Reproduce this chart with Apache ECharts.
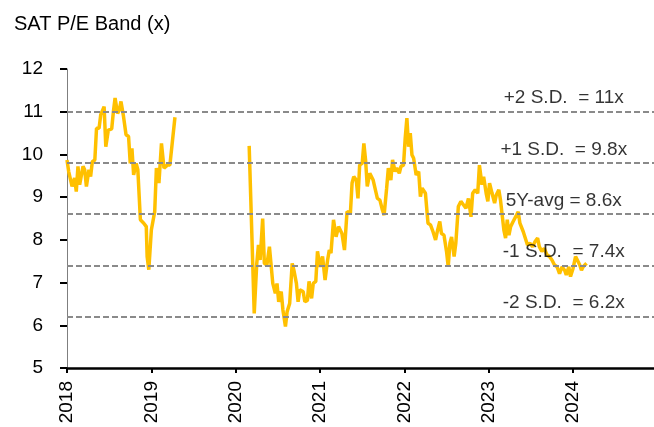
<!DOCTYPE html>
<html>
<head>
<meta charset="utf-8">
<script src="https://cdn.jsdelivr.net/npm/echarts@6/dist/echarts.min.js"></script>
<style>
  html, body {
    margin: 0;
    padding: 0;
    background: #FFFFFF;
  }
  #pe-band-chart {
    width: 654px;
    height: 427px;
  }
</style>
</head>
<body>
<div id="pe-band-chart"></div>
<script>
// x positions as decimal years
const dates = [
  2018.00, 2018.02, 2018.06, 2018.09, 2018.11, 2018.13, 2018.15, 2018.19, 2018.21, 2018.23,
  2018.26, 2018.28, 2018.30, 2018.33, 2018.35, 2018.38, 2018.40, 2018.44, 2018.46, 2018.49,
  2018.53, 2018.55, 2018.57, 2018.60, 2018.62, 2018.64, 2018.67, 2018.70, 2018.73, 2018.75,
  2018.77, 2018.79, 2018.82, 2018.84, 2018.87, 2018.91, 2018.94, 2018.95, 2018.97, 2019.00,
  2019.04, 2019.06, 2019.09, 2019.12, 2019.15, 2019.19, 2019.22, 2019.28,
  2019.70,
  2020.16, 2020.22, 2020.25, 2020.27, 2020.29, 2020.32, 2020.34, 2020.37, 2020.40, 2020.42,
  2020.44, 2020.47, 2020.49, 2020.51, 2020.54, 2020.56, 2020.59, 2020.61, 2020.64, 2020.67,
  2020.69, 2020.72, 2020.74, 2020.76, 2020.80, 2020.82, 2020.85, 2020.87, 2020.90, 2020.92,
  2020.95, 2020.97, 2021.00, 2021.03, 2021.06, 2021.09, 2021.11, 2021.13, 2021.16, 2021.19,
  2021.22, 2021.26, 2021.29, 2021.32, 2021.36, 2021.38, 2021.40, 2021.43, 2021.45, 2021.47,
  2021.50, 2021.52, 2021.54, 2021.56, 2021.59, 2021.63, 2021.65, 2021.68, 2021.71, 2021.74,
  2021.76, 2021.79, 2021.81, 2021.84, 2021.86, 2021.89, 2021.91, 2021.94, 2021.96, 2021.99,
  2022.01, 2022.03, 2022.05, 2022.07, 2022.09, 2022.11, 2022.14, 2022.17, 2022.19, 2022.21,
  2022.25, 2022.28, 2022.31, 2022.34, 2022.37, 2022.39, 2022.42, 2022.44, 2022.47, 2022.50,
  2022.52, 2022.54, 2022.56, 2022.59, 2022.61, 2022.64, 2022.67, 2022.70, 2022.73, 2022.76,
  2022.79, 2022.81, 2022.84, 2022.87, 2022.89, 2022.92, 2022.94, 2022.97, 2022.99, 2023.01,
  2023.04, 2023.07, 2023.09, 2023.12, 2023.14, 2023.18, 2023.20, 2023.22, 2023.24, 2023.26,
  2023.29, 2023.33, 2023.35, 2023.37, 2023.41, 2023.43, 2023.46, 2023.49, 2023.52, 2023.55,
  2023.58, 2023.60, 2023.63, 2023.66, 2023.69, 2023.72, 2023.75, 2023.78, 2023.81, 2023.84,
  2023.87, 2023.90, 2023.92, 2023.95, 2023.97, 2024.00, 2024.03, 2024.05, 2024.08, 2024.10,
  2024.12, 2024.16
]

// P/E values (x); null marks the gap in 2019
const pe = [
  9.87, 9.60, 9.25, 9.45, 9.13, 9.72, 9.29, 9.72, 9.64, 9.25,
  9.64, 9.48, 9.83, 9.87, 10.61, 10.61, 10.93, 11.12, 10.18, 10.57,
  10.60, 11.00, 11.32, 10.96, 11.04, 11.24, 10.89, 10.46, 10.42, 9.79,
  10.14, 9.52, 9.79, 9.64, 8.47, 8.39, 8.31, 7.61, 7.30, 8.23,
  8.66, 9.68, 9.33, 10.26, 9.68, 9.75, 9.75, 10.87,
  null,
  10.20, 6.28, 7.45, 7.88, 7.53, 8.50, 7.45, 7.41, 7.84, 7.80,
  6.98, 6.75, 6.98, 6.55, 6.79, 6.36, 5.97, 6.32, 6.51, 7.45,
  7.29, 6.98, 6.55, 6.83, 6.79, 6.55, 6.58, 7.03, 6.63, 6.98,
  7.03, 7.73, 7.37, 7.61, 7.06, 7.53, 7.76, 7.69, 8.47, 8.07,
  8.31, 8.15, 7.76, 8.66, 8.62, 9.33, 9.48, 9.40, 8.97, 9.75,
  9.79, 10.26, 9.87, 9.25, 9.56, 9.40, 9.44, 8.97, 8.93, 8.70,
  8.58, 9.21, 9.68, 9.40, 9.87, 9.60, 9.68, 9.56, 9.72, 9.75,
  10.38, 10.85, 10.18, 10.50, 9.99, 9.91, 9.52, 9.60, 9.01, 9.21,
  9.09, 8.39, 8.35, 8.19, 8.00, 8.19, 8.43, 8.15, 8.11, 7.73,
  7.37, 7.92, 8.07, 7.61, 7.92, 8.78, 8.90, 8.82, 8.74, 8.97,
  8.54, 9.09, 9.17, 9.09, 9.75, 9.29, 9.48, 9.09, 8.90, 9.33,
  9.09, 8.86, 9.05, 9.17, 8.93, 8.23, 8.04, 8.47, 8.11, 8.31,
  8.43, 8.58, 8.66, 8.39, 8.19, 8.15, 7.88, 7.92, 7.84, 7.96,
  8.04, 7.84, 7.73, 7.80, 7.65, 7.61, 7.53, 7.41, 7.37, 7.21,
  7.37, 7.29, 7.18, 7.37, 7.14, 7.33, 7.61, 7.57, 7.41, 7.29,
  7.37, 7.45
]

const bandValues = [11, 9.8, 8.6, 7.4, 6.2]
const bandLabels = ['+2 S.D.  = 11x', '+1 S.D.  = 9.8x', '5Y-avg = 8.6x', '-1 S.D.  = 7.4x', '-2 S.D.  = 6.2x']
const bandLabelX = 2023.89

const chart = echarts.init(document.getElementById('pe-band-chart'))

const font = 'Liberation Sans, Arial, sans-serif'

const option = {
  animation: false,
  textStyle: {
    fontFamily: font
  },
  title: {
    text: 'SAT P/E Band (x)',
    left: 9,
    top: 9,
    textStyle: {
      fontFamily: font,
      fontSize: 20,
      fontWeight: 'normal',
      color: '#000000'
    }
  },
  grid: {
    left: 67,
    right: 0,
    top: 69,
    bottom: 59
  },
  xAxis: {
    type: 'value',
    min: 2018,
    max: 2024.96,
    interval: 1,
    splitLine: {show: false},
    axisLine: {
      lineStyle: {
        color: '#000000',
        width: 2.5
      }
    },
    axisTick: {
      length: 5,
      lineStyle: {
        color: '#000000',
        width: 2
      }
    },
    axisLabel: {
      rotate: 90,
      margin: 13,
      fontSize: 19,
      color: '#000000',
      showMaxLabel: false,
      formatter: (v) => (Number.isInteger(v) ? String(v) : '')
    }
  },
  yAxis: {
    type: 'value',
    min: 5,
    max: 12,
    interval: 1,
    splitLine: {show: false},
    axisLine: {
      show: true,
      lineStyle: {
        color: '#7F7F7F',
        width: 1
      }
    },
    axisTick: {
      show: true,
      length: 7,
      lineStyle: {
        color: '#000000',
        width: 2
      }
    },
    axisLabel: {
      margin: 24,
      fontSize: 19,
      color: '#000000'
    }
  },
  series: [
    {
      name: 'P/E',
      type: 'line',
      data: dates.map((d, i) => [d, pe[i]]),
      connectNulls: false,
      symbol: 'none',
      z: 3,
      lineStyle: {
        color: '#FFC000',
        width: 3.5
      },
      markLine: {
        silent: true,
        symbol: 'none',
        label: {show: false},
        lineStyle: {
          color: '#8A8A8A',
          type: [6, 3],
          width: 2
        },
        data: bandValues.map((v) => ({yAxis: v}))
      }
    },
    {
      name: 'band labels',
      type: 'scatter',
      symbolSize: 0,
      silent: true,
      z: 4,
      data: bandValues.map((v, i) => ({value: [bandLabelX, v], name: bandLabels[i]})),
      label: {
        show: true,
        position: 'top',
        distance: 4,
        fontSize: 19,
        color: '#000000',
        formatter: (p) => p.name
      }
    }
  ]
}

chart.setOption(option)
</script>
</body>
</html>
